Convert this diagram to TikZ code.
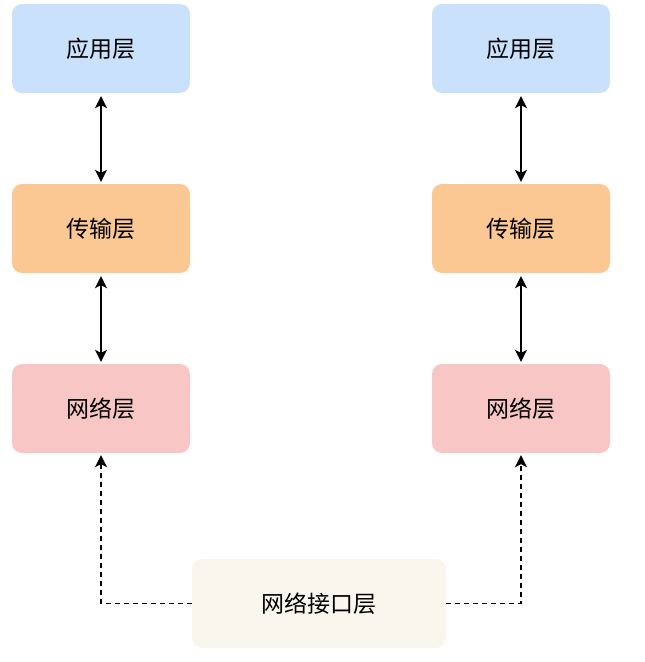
\documentclass[tikz,border=0pt]{standalone}
\usepackage{fontspec}
\setmainfont{Noto Sans CJK SC}
\usetikzlibrary{arrows.meta}
\definecolor{cblue}{HTML}{C9E1FB}
\definecolor{corange}{HTML}{FBC792}
\definecolor{cpink}{HTML}{F9C6C6}
\definecolor{cbeige}{HTML}{F9F7ED}
\begin{document}
\begin{tikzpicture}[x=1pt,y=-1pt,
  layer/.style={rounded corners=10pt,minimum width=178pt,minimum height=89pt,inner sep=0pt,font=\fontsize{23}{26}\selectfont},
  link/.style={line width=1.4pt,{Stealth[length=12pt,width=12pt,inset=3pt]}-{Stealth[length=12pt,width=12pt,inset=3pt]}},
  dlink/.style={line width=1.4pt,dash pattern=on 5pt off 4pt,-{Stealth[length=12pt,width=12pt,inset=3pt]}}]
\useasboundingbox (0,0) rectangle (645,662);
\node[layer,fill=cblue] (a1) at (101,48.5) {应用层};
\node[layer,fill=corange] (t1) at (101,228.5) {传输层};
\node[layer,fill=cpink] (n1) at (101,408.5) {网络层};
\node[layer,fill=cblue] (a2) at (521,48.5) {应用层};
\node[layer,fill=corange] (t2) at (521,228.5) {传输层};
\node[layer,fill=cpink] (n2) at (521,408.5) {网络层};
\node[layer,fill=cbeige,minimum width=254pt] (i) at (319,603.5) {网络接口层};
\draw[link] ([yshift=-3pt]a1.south) -- ([yshift=2pt]t1.north);
\draw[link] ([yshift=-3pt]t1.south) -- ([yshift=2pt]n1.north);
\draw[link] ([yshift=-3pt]a2.south) -- ([yshift=2pt]t2.north);
\draw[link] ([yshift=-3pt]t2.south) -- ([yshift=2pt]n2.north);
\draw[dlink] (i.west) -| ([yshift=-2pt]n1.south);
\draw[dlink] (i.east) -| ([yshift=-2pt]n2.south);
\end{tikzpicture}
\end{document}
